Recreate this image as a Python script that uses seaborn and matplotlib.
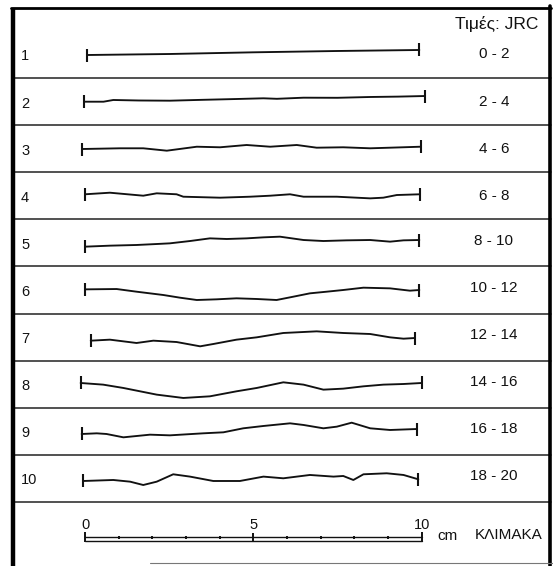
import numpy as np
import pandas as pd
import matplotlib
matplotlib.use("Agg")
import matplotlib.pyplot as plt
import seaborn as sns

# ---------------- data (x in cm along profile, h in mm, up positive) ----------------
row_labels = ["1", "2", "3", "4", "5", "6", "7", "8", "9", "10"]
jrc_ranges = ["0 - 2", "2 - 4", "4 - 6", "6 - 8", "8 - 10",
              "10 - 12", "12 - 14", "14 - 16", "16 - 18", "18 - 20"]

p1_x = [0.07, 2.52, 5.00, 7.48, 9.93]
p1_h = [-0.15, 0.15, 0.65, 1.04, 1.34]

p2_x = [-0.03, 0.55, 0.84, 1.60, 2.52, 3.50, 4.50, 5.30, 5.70, 6.49, 7.50, 8.47, 9.30, 10.10]
p2_h = [-0.06, -0.06, 0.45, 0.30, 0.24, 0.50, 0.74, 0.95, 0.80, 1.13, 1.10, 1.34, 1.45, 1.63]

p3_x = [-0.08, 1.04, 1.73, 2.43, 3.32, 4.01, 4.80, 5.50, 6.29, 6.88, 7.67, 8.47, 9.06, 9.97]
p3_h = [-0.12, 0.09, 0.09, -0.62, 0.56, 0.39, 1.07, 0.56, 1.07, 0.27, 0.39, 0.09, 0.27, 0.56]

p4_x = [0.00, 0.74, 1.73, 2.13, 2.72, 2.92, 4.01, 4.90, 5.50, 6.09, 6.49, 7.48, 8.47, 8.86, 9.26, 9.95]
p4_h = [0.42, 0.89, 0.00, 0.71, 0.42, -0.30, -0.59, -0.30, 0.00, 0.42, -0.30, -0.30, -0.79, -0.59, 0.20, 0.42]

p5_x = [0.00, 0.74, 1.53, 2.13, 2.52, 3.12, 3.71, 4.21, 4.80, 5.30, 5.79, 6.49, 7.08, 7.77, 8.47, 9.06, 9.46, 9.93]
p5_h = [-1.15, -0.85, -0.65, -0.36, -0.16, 0.53, 1.32, 1.13, 1.32, 1.62, 1.82, 0.83, 0.53, 0.73, 0.83, 0.34, 0.73, 0.83]

p6_x = [0.00, 0.94, 1.53, 2.33, 2.82, 3.32, 3.91, 4.50, 5.10, 5.69, 6.19, 6.68, 7.18, 7.67, 8.27, 9.06, 9.65, 9.93]
p6_h = [0.16, 0.26, -0.53, -1.52, -2.31, -3.00, -2.80, -2.50, -2.70, -3.00, -2.01, -1.02, -0.53, -0.03, 0.66, 0.46, -0.23, -0.03]

p7_x = [0.17, 0.74, 1.53, 2.03, 2.72, 3.42, 3.81, 4.50, 5.10, 5.89, 6.88, 7.67, 8.47, 9.06, 9.46, 9.80]
p7_h = [-1.09, -0.79, -1.78, -1.09, -1.49, -2.77, -2.08, -0.79, -0.10, 1.19, 1.68, 1.19, 0.89, -0.10, -0.50, -0.30]

p8_x = [-0.13, 0.54, 1.14, 2.13, 2.92, 3.71, 4.50, 5.10, 5.89, 6.49, 7.08, 7.67, 8.27, 8.86, 9.46, 10.00]
p8_h = [0.33, -0.16, -1.15, -3.13, -4.12, -3.63, -2.14, -1.15, 0.53, -0.16, -1.65, -1.35, -0.66, -0.16, 0.03, 0.33]

p9_x = [-0.10, 0.35, 0.64, 1.14, 1.93, 2.52, 3.51, 4.11, 4.70, 5.30, 6.09, 6.49, 7.08, 7.48, 7.92, 8.47, 9.06, 9.85]
p9_h = [-0.83, -0.63, -0.83, -1.82, -1.03, -1.23, -0.63, -0.33, 0.86, 1.55, 2.34, 1.85, 0.86, 1.35, 2.53, 0.86, 0.36, 0.65]

p10_x = [-0.05, 0.84, 1.34, 1.73, 2.13, 2.62, 3.12, 3.81, 4.60, 5.30, 5.89, 6.68, 7.38, 7.67, 7.97, 8.27, 8.96, 9.46, 9.90]
p10_h = [-0.80, -0.50, -1.00, -1.99, -1.00, 1.19, 0.50, -0.80, -0.80, 0.50, 0.00, 0.99, 0.50, 0.69, -0.50, 1.19, 1.49, 0.99, -0.30]

profiles_x = [p1_x, p2_x, p3_x, p4_x, p5_x, p6_x, p7_x, p8_x, p9_x, p10_x]
profiles_h = [p1_h, p2_h, p3_h, p4_h, p5_h, p6_h, p7_h, p8_h, p9_h, p10_h]

scale_labels = ["0", "5", "10"]
scale_ticks_cm = list(range(0, 11))

# ---------------- layout (figure px -> cm, 33.67 px per cm) ----------------
W, H = 553, 566
PX = 33.67
X0 = 85.0  # pixel of 0 cm


def cx(px):
    return (px - X0) / PX


def cy(py):
    return py / PX


row_centers = [cy(54.5)] + [cy(101.5 + 47.1 * k) for k in range(9)]
separators = [cy(78 + 47.1 * k) for k in range(10)]

sns.set_theme(style="white")
plt.rcParams["font.family"] = ["Liberation Sans", "DejaVu Sans"]

fig = plt.figure(figsize=(W / 100, H / 100), dpi=100)
ax = fig.add_axes([0, 0, 1, 1])
ax.set_xlim(cx(0), cx(W))
ax.set_ylim(cy(H), cy(0))
ax.axis("off")
fig.patch.set_facecolor("white")

# long table of profiles
rows = []
for i, (xs, hs) in enumerate(zip(profiles_x, profiles_h)):
    for x, h in zip(xs, hs):
        rows.append({"profile": i + 1, "x": x, "y": row_centers[i] - h / 10.0})
df = pd.DataFrame(rows)

sns.lineplot(data=df, x="x", y="y", units="profile", estimator=None, sort=False,
             color="#111111", linewidth=1.35, ax=ax, legend=False)

cap = 6.5 / PX
for i, g in df.groupby("profile"):
    for idx in (0, -1):
        x = g["x"].iloc[idx]
        y = g["y"].iloc[idx]
        ax.plot([x, x], [y - cap, y + cap], color="#111111", lw=1.5, solid_capstyle="butt")

# row separators
for s in separators:
    ax.plot([cx(13), cx(551)], [s, s], color="#222222", lw=1.1)

# frame
ax.plot([cx(13), cx(13)], [cy(8), cy(566)], color="black", lw=3.2, solid_capstyle="butt")
ax.plot([cx(11), cx(551)], [cy(8), cy(8)], color="black", lw=2.0)
ax.plot([cx(549.5), cx(549.5)], [cy(6), cy(566)], color="black", lw=2.6)
ax.plot([cx(150), cx(553)], [cy(563), cy(563)], color="#777777", lw=0.8)

# labels
ax.text(cx(538), cy(24), "Τιμές: JRC", ha="right", va="center", fontsize=12.5, color="#111111")
for i in range(10):
    ax.text(cx(21), row_centers[i] + 2.0 / PX, row_labels[i], ha="left", va="center",
            fontsize=10.5, color="#111111")
    ax.text(cx(494), row_centers[i] + (0.0 if i < 4 else -2.0 / PX), jrc_ranges[i],
            ha="center", va="center", fontsize=11, color="#111111")

# scale bar
yb1, yb2 = cy(537.3), cy(540.7)
ax.plot([0, 10], [yb1, yb1], color="#111111", lw=1.0)
ax.plot([0, 10], [yb2, yb2], color="#111111", lw=1.0)
for t in scale_ticks_cm:
    if t in (0, 10):
        top, bot = cy(531.5), cy(541.7)
    elif t == 5:
        top, bot = cy(532.5), cy(540.7)
    else:
        top, bot = cy(535.5), cy(538.5)
    ax.plot([t, t], [top, bot], color="#111111", lw=1.4, solid_capstyle="butt")
for lab in scale_labels:
    ax.text(float(lab), cy(525), lab, ha="center", va="center", fontsize=10.5, color="#111111")
ax.text(cx(447), cy(536), "cm", ha="center", va="center", fontsize=11, color="#111111")
ax.text(cx(509), cy(535), "ΚΛΙΜΑΚΑ", ha="center", va="center", fontsize=11, color="#111111")

fig.savefig("out.png", dpi=100, facecolor="white")
